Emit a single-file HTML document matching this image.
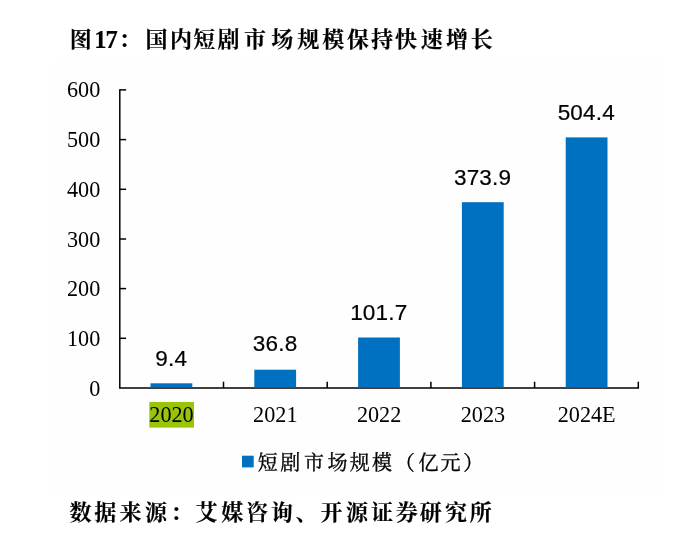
<!DOCTYPE html>
<html lang="zh-CN"><head><meta charset="utf-8"><title>图17：国内短剧市场规模保持快速增长</title>
<style>
html,body{margin:0;padding:0;background:#fff;}
body{width:674px;height:555px;overflow:hidden;}
svg{display:block;}
.t{font-family:"Liberation Serif","Noto Serif CJK SC",serif;font-weight:700;fill:#000;stroke:#000;stroke-width:0.15px;}
.ax{font-family:"Liberation Serif","Noto Serif CJK SC",serif;font-size:22.2px;fill:#000;}
.dl{font-family:"Liberation Sans","Noto Sans CJK SC",sans-serif;font-size:22.5px;fill:#000;letter-spacing:0.2px;stroke:#000;stroke-width:0.2px;}
.lg{font-family:"Liberation Serif","Noto Serif CJK SC",serif;font-size:20px;fill:#000;stroke:#000;stroke-width:0.35px;}
</style></head><body>
<svg width="674" height="555" viewBox="0 0 674 555">
<rect x="49" y="62" width="615" height="432" fill="#fefefe"/>
<text class="t" font-size="22" text-anchor="middle" y="47" x="80.7 100.3 111.5 129.8 156.6 180.9 204.2 228.6 254.9 282.2 308.2 333.2 358.0 382.1 406.0 431.7 457.0 481.8">图<tspan font-size="24.5" dy="1.1">17</tspan><tspan dy="-1.1">：国内短剧市场规模保持快速增长</tspan></text>
<g stroke="#000" stroke-width="1.5" fill="none">
<path d="M119.8 89.2V388.0"/>
<path d="M119.05 388.0H639.05"/>
<path d="M119.8 338.3h6.3"/>
<path d="M119.8 288.6h6.3"/>
<path d="M119.8 239.0h6.3"/>
<path d="M119.8 189.3h6.3"/>
<path d="M119.8 139.6h6.3"/>
<path d="M119.8 89.9h6.3"/>
<path d="M223.5 388.0v-6.3"/>
<path d="M327.2 388.0v-6.3"/>
<path d="M430.9 388.0v-6.3"/>
<path d="M534.6 388.0v-6.3"/>
<path d="M638.3 388.0v-6.3"/>
</g>
<text class="ax" text-anchor="end" x="100.3" y="395.5">0</text>
<text class="ax" text-anchor="end" x="100.3" y="345.8">100</text>
<text class="ax" text-anchor="end" x="100.3" y="296.1">200</text>
<text class="ax" text-anchor="end" x="100.3" y="246.5">300</text>
<text class="ax" text-anchor="end" x="100.3" y="196.8">400</text>
<text class="ax" text-anchor="end" x="100.3" y="147.1">500</text>
<text class="ax" text-anchor="end" x="100.3" y="97.4">600</text>
<rect x="150.5" y="383.3" width="41.8" height="4.1" fill="#0070c0"/>
<text class="dl" text-anchor="middle" x="171.3" y="366.2">9.4</text>
<rect x="149.3" y="402" width="44.7" height="25.6" fill="#99c408"/>
<text class="ax" text-anchor="middle" x="171.5" y="422">2020</text>
<rect x="254.3" y="369.7" width="41.8" height="17.7" fill="#0070c0"/>
<text class="dl" text-anchor="middle" x="275.1" y="351.3">36.8</text>
<text class="ax" text-anchor="middle" x="275.3" y="422">2021</text>
<rect x="358.1" y="337.5" width="41.8" height="49.9" fill="#0070c0"/>
<text class="dl" text-anchor="middle" x="378.8" y="320.2">101.7</text>
<text class="ax" text-anchor="middle" x="379.1" y="422">2022</text>
<rect x="461.9" y="202.2" width="41.8" height="185.2" fill="#0070c0"/>
<text class="dl" text-anchor="middle" x="482.6" y="184.7">373.9</text>
<text class="ax" text-anchor="middle" x="482.9" y="422">2023</text>
<rect x="565.7" y="137.4" width="41.8" height="250.0" fill="#0070c0"/>
<text class="dl" text-anchor="middle" x="586.3" y="120.0">504.4</text>
<text class="ax" text-anchor="middle" x="586.7" y="422">2024E</text>
<rect x="242" y="455.7" width="11.7" height="11.7" fill="#0070c0"/>
<text class="lg" text-anchor="middle" y="469.8" x="267.8 290.3 313.9 337.4 359.7 382.1 404.8 428.6 450.4 473.2">短剧市场规模（亿元）</text>
<text class="t" font-size="22" text-anchor="middle" y="520.3" x="80.4 105.2 130.4 156.1 181.4 206.5 232.2 257.0 281.7 306.6 331.5 357.0 382.0 406.8 430.8 455.9 480.8">数据来源：艾媒咨询、开源证券研究所</text>
</svg></body></html>
